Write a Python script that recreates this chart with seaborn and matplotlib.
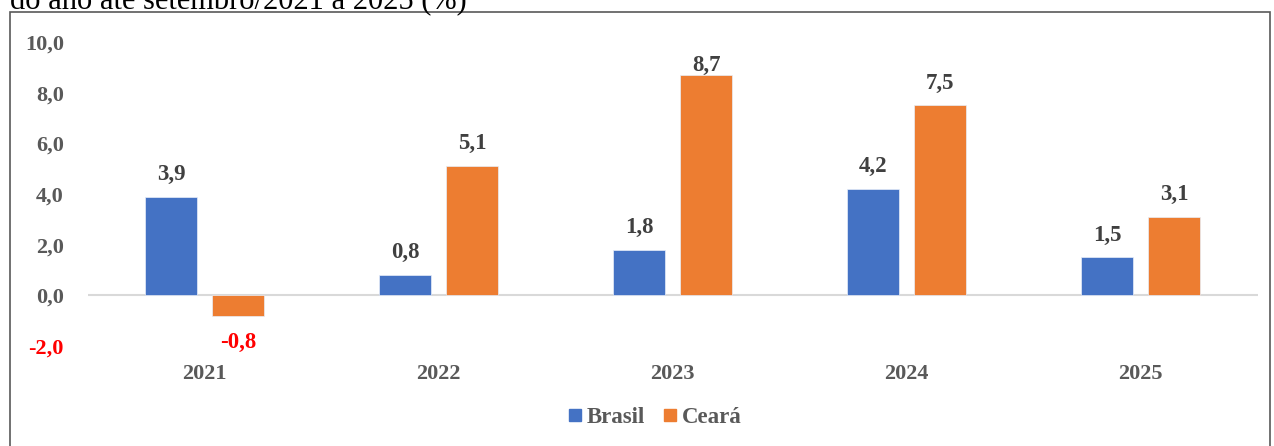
import matplotlib
matplotlib.use("Agg")
import matplotlib.pyplot as plt
import seaborn as sns
import pandas as pd
from matplotlib.patches import Rectangle
from matplotlib.lines import Line2D

years = ["2021", "2022", "2023", "2024", "2025"]
brasil = [3.9, 0.8, 1.8, 4.2, 1.5]
ceara = [-0.8, 5.1, 8.7, 7.5, 3.1]
series = ["Brasil", "Ceará"]
yticks = [-2.0, 0.0, 2.0, 4.0, 6.0, 8.0, 10.0]
title = "do ano até setembro/2021 a 2025 (%)"

df = pd.DataFrame({
    "ano": years * 2,
    "valor": brasil + ceara,
    "serie": [series[0]] * len(years) + [series[1]] * len(years),
})

sns.set_theme(style="white")
plt.rcParams["font.family"] = ["Liberation Serif", "DejaVu Serif"]

colors = {"Brasil": "#4472C4", "Ceará": "#ED7D31"}
fig = plt.figure(figsize=(12.74, 4.46), dpi=100)
ax = fig.add_axes([0.0687, 0.2241, 0.9184, 0.6817])

sns.barplot(data=df, x="ano", y="valor", hue="serie", palette=colors,
            order=years, hue_order=series, width=0.572, gap=0.22,
            saturation=1, ax=ax, legend=False, linewidth=0.5, edgecolor="#E8EEF8")

ax.set_ylim(-2, 10)
ax.set_xlim(-0.5, len(years) - 0.5)
ax.set_yticks(yticks)
ax.set_yticklabels([f"{v:.1f}".replace(".", ",") for v in yticks])
ax.set_xlabel("")
ax.set_ylabel("")
for s in ax.spines.values():
    s.set_visible(False)
ax.axhline(0, color="#D9D9D9", lw=1.5, zorder=0)
ax.tick_params(axis="both", length=0, labelsize=16, labelcolor="#595959")
ax.tick_params(axis="y", pad=17)
ax.tick_params(axis="x", pad=13)
for lab in ax.get_yticklabels() + ax.get_xticklabels():
    lab.set_fontweight("bold")
for lab, v in zip(ax.get_yticklabels(), yticks):
    if v < 0:
        lab.set_color("red")

for cont, vals in zip(ax.containers, [brasil, ceara]):
    texts = ax.bar_label(cont, labels=[f"{v:.1f}".replace(".", ",") for v in vals],
                         padding=8.5, fontsize=16.5, fontweight="bold", color="#404040")
    for t, v in zip(texts, vals):
        if v < 0:
            t.set_color("red")
            t.xyann = (0, -12)
        elif v > 8.0:
            # label clamped to the plot area: sits right on the bar
            t.xyann = (0, -0.5)

handles = [Line2D([], [], marker="s", ls="", markersize=9, color=colors[s]) for s in series]
fig.legend(handles, series, loc="center", bbox_to_anchor=(0.512, 0.063), ncol=2,
           frameon=False, handletextpad=0.0, columnspacing=0.6, handlelength=1.0,
           prop={"family": "Liberation Serif", "weight": "bold", "size": 16.5},
           labelcolor="#595959")

fig.patches.append(Rectangle((10 / 1274, -0.01), 1260 / 1274, 1 - 12 / 446 + 0.01,
                             transform=fig.transFigure, fill=False,
                             edgecolor="#595959", lw=1.2))
fig.text(10 / 1274, 1 - 9 / 446, title, fontsize=22, color="black",
         ha="left", va="baseline", family="Liberation Serif")

fig.savefig("out.png", dpi=100)
